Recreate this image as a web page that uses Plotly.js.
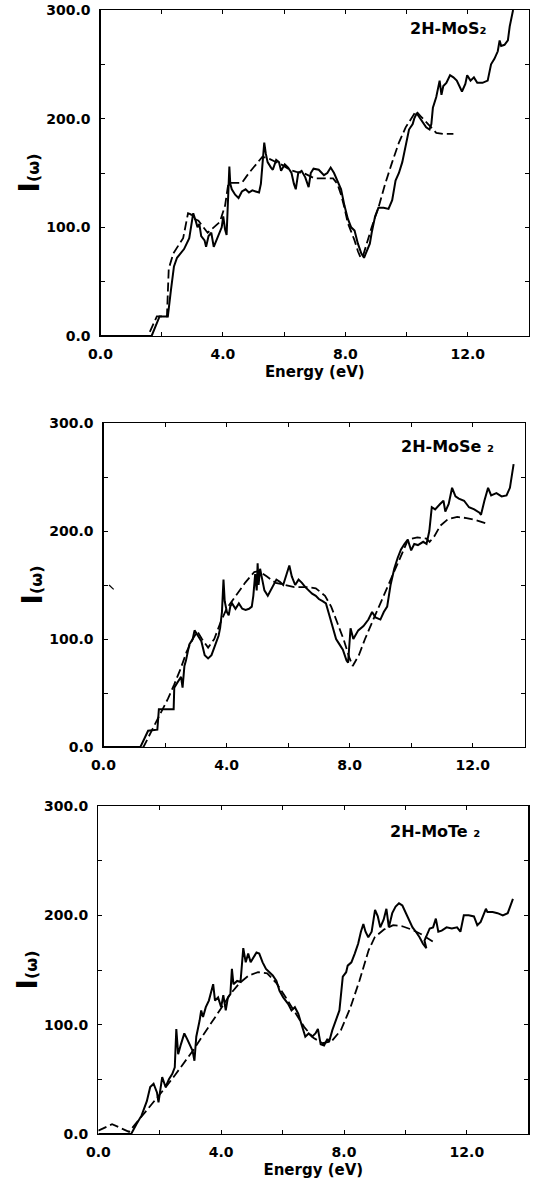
<!DOCTYPE html>
<html>
<head>
<meta charset="utf-8">
<script src="https://cdn.plot.ly/plotly-3.0.1.min.js"></script>
<style>html,body{margin:0;padding:0;background:#fff;}#chart{width:537px;height:1186px;}</style>
</head>
<body>
<div id="chart"></div>
<script>
// ---------- data (energy eV, I(omega)) ----------
const mos2Solid = [[0,0],[1.67,0],[1.93,18],[2.2,18],[2.3,42],[2.4,64],[2.5,72],[2.73,80],[2.9,90],[2.97,105],[3.03,113],[3.12,105],[3.17,100],[3.23,103],[3.29,92],[3.4,88],[3.45,82],[3.53,92],[3.62,95],[3.7,82],[3.84,92],[3.96,100],[4.01,110],[4.07,98],[4.12,93],[4.16,125],[4.21,156],[4.24,140],[4.29,135],[4.4,130],[4.51,127],[4.62,133],[4.74,135],[4.85,132],[4.96,134],[5.07,133],[5.18,132],[5.24,140],[5.29,160],[5.35,178],[5.4,168],[5.46,160],[5.57,155],[5.63,153],[5.74,162],[5.83,160],[5.9,152],[6.02,158],[6.13,155],[6.24,150],[6.32,140],[6.38,135],[6.46,150],[6.57,152],[6.69,146],[6.8,137],[6.87,150],[6.96,154],[7.13,153],[7.3,148],[7.41,150],[7.52,155],[7.63,150],[7.74,143],[7.86,135],[7.97,120],[8.08,108],[8.19,100],[8.3,97],[8.41,85],[8.52,76],[8.61,72],[8.69,78],[8.8,85],[8.86,95],[8.97,110],[9.08,118],[9.25,118],[9.41,117],[9.53,125],[9.64,143],[9.75,150],[9.86,160],[9.97,175],[10.08,190],[10.2,195],[10.25,200],[10.33,205],[10.44,200],[10.53,196],[10.64,192],[10.75,190],[10.81,195],[10.86,210],[10.97,220],[11.08,235],[11.14,222],[11.2,230],[11.3,233],[11.42,240],[11.53,238],[11.64,235],[11.81,225],[11.92,232],[11.98,240],[12.09,235],[12.2,238],[12.31,233],[12.48,233],[12.65,235],[12.76,250],[12.87,255],[12.98,262],[13.04,272],[13.09,267],[13.2,268],[13.31,272],[13.37,285],[13.43,292],[13.48,300]];
const mos2Dashed = [[0,0],[1.55,0],[1.84,18],[2.17,18],[2.23,62],[2.38,76],[2.56,84],[2.7,90],[2.86,113],[2.95,112],[3.06,108],[3.2,106],[3.5,95],[3.9,105],[4.07,120],[4.18,141],[4.4,141],[4.62,141],[4.85,150],[5.07,158],[5.29,165],[5.52,163],[5.74,160],[5.96,157],[6.18,153],[6.4,151],[6.63,150],[6.85,147],[7.0,145],[7.3,145],[7.6,145],[7.74,140],[7.86,130],[7.97,118],[8.08,104],[8.19,96],[8.3,88],[8.41,78],[8.5,72],[8.58,74],[8.69,85],[8.86,100],[9.08,118],[9.3,140],[9.53,160],[9.75,178],[9.97,192],[10.14,200],[10.31,207],[10.47,202],[10.64,197],[10.81,192],[10.97,187],[11.2,186],[11.53,186]];

const mose2Solid = [[0,0],[1.2,0],[1.45,15],[1.75,16],[1.8,35],[2.28,35],[2.3,55],[2.4,60],[2.52,65],[2.57,55],[2.63,75],[2.68,80],[2.79,95],[2.9,100],[2.96,108],[3.07,103],[3.18,98],[3.29,85],[3.4,82],[3.51,85],[3.63,95],[3.74,103],[3.79,110],[3.85,125],[3.9,155],[3.94,135],[4.01,125],[4.07,122],[4.12,130],[4.18,133],[4.29,128],[4.4,133],[4.51,128],[4.62,127],[4.73,128],[4.82,130],[4.87,140],[4.93,160],[4.98,145],[5.01,170],[5.04,150],[5.09,165],[5.16,155],[5.23,145],[5.34,140],[5.51,150],[5.62,155],[5.73,153],[5.84,150],[5.95,160],[6.04,168],[6.12,158],[6.23,150],[6.34,155],[6.45,152],[6.56,148],[6.67,145],[6.78,142],[6.9,140],[7.0,137],[7.12,135],[7.23,133],[7.34,122],[7.45,110],[7.56,100],[7.67,95],[7.78,90],[7.9,80],[7.95,78],[8.03,110],[8.12,100],[8.28,108],[8.45,112],[8.61,118],[8.73,125],[8.84,120],[9.0,118],[9.11,125],[9.22,130],[9.33,150],[9.45,165],[9.56,175],[9.67,183],[9.78,188],[9.89,192],[10.0,182],[10.1,188],[10.22,187],[10.39,190],[10.5,188],[10.59,200],[10.67,222],[10.78,220],[10.94,225],[11.05,228],[11.11,218],[11.22,225],[11.33,240],[11.44,232],[11.55,230],[11.72,228],[11.88,222],[12.05,220],[12.22,217],[12.27,215],[12.38,228],[12.5,240],[12.6,233],[12.77,235],[12.94,232],[13.1,233],[13.21,240],[13.27,250],[13.33,262]];
const mose2Dashed = [[0,0],[1.3,0],[1.6,17],[1.9,33],[2.1,45],[2.3,58],[2.5,72],[2.7,88],[2.9,100],[3.05,107],[3.2,100],[3.4,92],[3.6,100],[3.8,115],[4.0,128],[4.3,140],[4.6,152],[4.9,162],[5.05,163],[5.3,158],[5.6,152],[5.9,150],[6.2,148],[6.6,148],[6.9,147],[7.2,140],[7.4,130],[7.6,115],[7.8,100],[8.0,82],[8.1,75],[8.3,85],[8.5,100],[8.8,120],[9.1,140],[9.4,160],[9.7,180],[9.9,192],[10.2,194],[10.5,193],[10.6,190],[10.75,195],[10.95,205],[11.2,211],[11.5,213],[11.8,212],[12.1,210],[12.45,207]];
const mose2Stray = [[0.18,150],[0.33,146]];

const mote2Solid = [[0,0],[1.07,0],[1.24,9],[1.41,17],[1.58,30],[1.69,43],[1.8,46],[1.91,38],[1.96,29],[2.08,52],[2.19,43],[2.3,50],[2.41,55],[2.49,61],[2.54,96],[2.6,73],[2.69,82],[2.8,92],[2.89,87],[2.96,82],[3.07,76],[3.13,67],[3.19,89],[3.3,104],[3.35,113],[3.41,107],[3.5,116],[3.6,122],[3.68,131],[3.74,137],[3.8,122],[3.9,125],[4.0,116],[4.07,127],[4.15,113],[4.22,125],[4.3,128],[4.35,151],[4.4,137],[4.52,140],[4.63,139],[4.72,170],[4.8,157],[4.88,165],[4.96,157],[5.07,163],[5.15,166],[5.24,165],[5.35,157],[5.46,151],[5.57,148],[5.68,145],[5.8,140],[5.9,131],[6.02,125],[6.18,119],[6.29,113],[6.4,116],[6.51,110],[6.63,98],[6.74,89],[6.85,92],[6.96,89],[7.07,92],[7.15,96],[7.24,82],[7.35,81],[7.46,87],[7.51,84],[7.62,95],[7.74,104],[7.85,113],[7.96,144],[8.07,148],[8.12,154],[8.24,157],[8.35,165],[8.46,174],[8.55,185],[8.63,192],[8.7,185],[8.79,180],[8.9,185],[9.01,205],[9.1,199],[9.18,189],[9.29,196],[9.38,206],[9.46,189],[9.57,202],[9.68,208],[9.79,211],[9.9,209],[10.01,202],[10.12,196],[10.23,189],[10.34,185],[10.46,180],[10.57,174],[10.68,170],[10.62,177],[10.79,188],[10.9,189],[10.99,197],[11.07,185],[11.18,186],[11.34,189],[11.51,188],[11.68,189],[11.79,185],[11.9,200],[12.06,200],[12.23,199],[12.34,191],[12.45,194],[12.56,202],[12.62,206],[12.67,203],[12.84,203],[13.0,202],[13.17,200],[13.33,202],[13.45,211],[13.5,215]];
const mote2Dashed = [[0,3],[0.45,9],[1.0,2],[1.3,12],[1.6,22],[1.9,33],[2.2,43],[2.5,54],[2.8,65],[3.1,77],[3.4,90],[3.7,102],[4.0,115],[4.3,128],[4.6,138],[4.9,145],[5.2,148],[5.5,147],[5.8,138],[6.1,125],[6.4,112],[6.7,98],[7.0,88],[7.3,83],[7.6,85],[7.9,95],[8.2,115],[8.5,140],[8.8,168],[9.0,180],[9.3,187],[9.6,191],[9.9,190],[10.2,187],[10.5,183],[10.8,178],[10.95,175]];

const panelLabels = ['2H-MoS₂', '2H-MoSe ₂', '2H-MoTe ₂'];
const xTickVals = [0, 4, 8, 12];
const xTickText = ['0.0', '4.0', '8.0', '12.0'];
const xMinorVals = [2, 6, 10, 14];
const yTickVals = [0, 100, 200, 300];
const yTickText = ['0.0', '100.0', '200.0', '300.0'];
const yMinorVals = [50, 150, 250];
const xTitle = 'Energy (eV)';
const yTitle = '<span style="font-size:28px">I</span>(ω)';

// ---------- traces ----------
const W = 537, H = 1186;
const FONT = 'DejaVu Sans, Liberation Sans, Arial, sans-serif';
function tr(pts, ax, dashed, width) {
  return {
    type: 'scatter', mode: 'lines',
    x: pts.map(p => p[0]), y: pts.map(p => p[1]),
    xaxis: ax[0], yaxis: ax[1],
    line: {color: '#000', width: width, dash: dashed ? '9px,4px' : 'solid'},
    hoverinfo: 'skip'
  };
}
const data = [
  tr(mos2Dashed, ['x', 'y'], true, 1.8),
  tr(mos2Solid, ['x', 'y'], false, 2),
  tr(mose2Dashed, ['x2', 'y2'], true, 1.8),
  tr(mose2Solid, ['x2', 'y2'], false, 2),
  tr(mose2Stray, ['x2', 'y2'], false, 1.2),
  tr(mote2Dashed, ['x3', 'y3'], true, 1.8),
  tr(mote2Solid, ['x3', 'y3'], false, 2)
];

// ---------- layout ----------
// pixel boxes of each plot area [left, right, top, bottom]
const boxes = [[100.5, 529, 10, 336], [103.5, 525, 423, 747], [98.3, 528.3, 806, 1134]];
const xMax = [14, 13.7, 14];
const tickFont = {family: FONT, size: 14, color: '#000', weight: 'bold'};
const minorStyle = vals => ({tickmode: 'array', tickvals: vals, ticks: 'inside', ticklen: 4, tickwidth: 1, tickcolor: '#000', showgrid: false});

function xa(i, withTitle, anchor) {
  const b = boxes[i];
  const a = {
    domain: [b[0] / W, b[1] / W], range: [0, xMax[i]], anchor: anchor,
    tickmode: 'array', tickvals: xTickVals, ticktext: xTickText,
    ticks: 'inside', ticklen: 4, tickwidth: 1, tickcolor: '#000',
    minor: minorStyle(xMinorVals),
    showline: true, linecolor: '#000', linewidth: 1.2, mirror: 'allticks',
    showgrid: false, zeroline: false, tickfont: tickFont, ticklabelstandoff: 5, fixedrange: true
  };
  if (withTitle) a.title = {text: xTitle, font: {family: FONT, size: 15, color: '#000', weight: 'bold'}, standoff: 5};
  return a;
}
function ya(i, anchor) {
  const b = boxes[i];
  return {
    domain: [1 - b[3] / H, 1 - b[2] / H], range: [0, 300], anchor: anchor,
    tickmode: 'array', tickvals: yTickVals, ticktext: yTickText,
    ticks: 'inside', ticklen: 4, tickwidth: 1, tickcolor: '#000',
    minor: minorStyle(yMinorVals),
    showline: true, linecolor: '#000', linewidth: 1.2, mirror: 'allticks',
    showgrid: false, zeroline: false, tickfont: tickFont, ticklabelstandoff: 6, fixedrange: true,
    title: {text: yTitle, font: {family: FONT, size: 16, color: '#000', weight: 'bold'}, standoff: 2}
  };
}

const labelPos = [[448, 28], [447, 447], [435, 831]];
const annotations = [];
for (let i = 0; i < 3; i++) {
  annotations.push({
    xref: 'paper', yref: 'paper', x: labelPos[i][0] / W, y: 1 - labelPos[i][1] / H,
    xanchor: 'center', yanchor: 'middle', showarrow: false, text: panelLabels[i],
    font: {family: FONT, size: 16, color: '#000', weight: 'bold'}
  });
}

const layout = {
  width: W, height: H, margin: {l: 0, r: 0, t: 0, b: 0},
  paper_bgcolor: '#fff', plot_bgcolor: '#fff', showlegend: false,
  xaxis: xa(0, true, 'y'), yaxis: ya(0, 'x'),
  xaxis2: xa(1, false, 'y2'), yaxis2: ya(1, 'x2'),
  xaxis3: xa(2, true, 'y3'), yaxis3: ya(2, 'x3'),
  annotations: annotations
};

Plotly.newPlot('chart', data, layout, {staticPlot: true, displayModeBar: false});
</script>
</body>
</html>
